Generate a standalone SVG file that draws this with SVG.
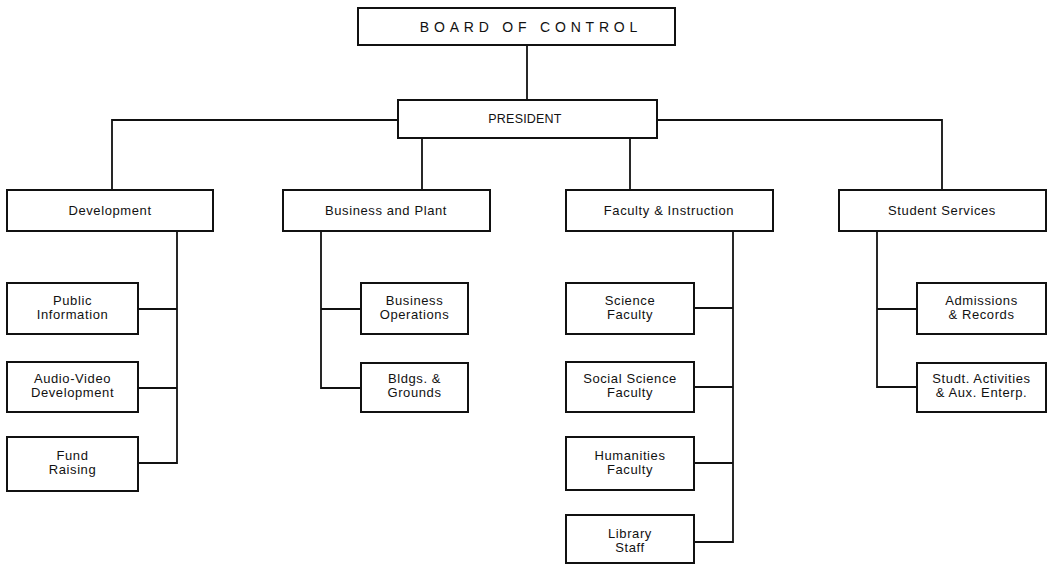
<svg xmlns="http://www.w3.org/2000/svg" width="1048" height="565" viewBox="0 0 1048 565">
  <style>
    .box { fill: #fff; stroke: #111; stroke-width: 2; }
    .link { fill: none; stroke: #111; stroke-width: 1.8; }
    text { font-family: "Liberation Sans", Arial, sans-serif; font-size: 13px; fill: #111; text-anchor: middle; letter-spacing: 0.6px; }
    .caps { font-size: 14px; letter-spacing: 4.8px; }
    .pres { font-size: 12.5px; letter-spacing: 0.2px; }
  </style>
  <rect width="1048" height="565" fill="#fff"/>

  <!-- connectors -->
  <g id="connectors" class="link">
    <path d="M527 45 V100"/>
    <path d="M398 120 H112 V190"/>
    <path d="M657 120 H942 V190"/>
    <path d="M422 138 V190"/>
    <path d="M630 138 V190"/>
    <!-- Development -->
    <path d="M177 231 V463 H138"/>
    <path d="M138 309 H177"/>
    <path d="M138 388 H177"/>
    <!-- Business and Plant -->
    <path d="M321 231 V388 H361"/>
    <path d="M321 309 H361"/>
    <!-- Faculty & Instruction -->
    <path d="M733 231 V542 H694"/>
    <path d="M694 308 H733"/>
    <path d="M694 387 H733"/>
    <path d="M694 463 H733"/>
    <!-- Student Services -->
    <path d="M877 231 V387 H917"/>
    <path d="M877 309 H917"/>
  </g>

  <g id="board">
    <rect class="box" x="358" y="8" width="317" height="37"/>
    <text class="caps" x="531" y="32">BOARD OF CONTROL</text>
  </g>
  <g id="president">
    <rect class="box" x="398" y="100" width="259" height="38"/>
    <text class="pres" x="525" y="123">PRESIDENT</text>
  </g>

  <g id="development">
    <rect class="box" x="7" y="190" width="206" height="41"/>
    <text x="110" y="215">Development</text>
  </g>
  <g id="business-plant">
    <rect class="box" x="283" y="190" width="207" height="41"/>
    <text x="386" y="215">Business and Plant</text>
  </g>
  <g id="faculty-instruction">
    <rect class="box" x="566" y="190" width="207" height="41"/>
    <text x="669" y="215">Faculty &amp; Instruction</text>
  </g>
  <g id="student-services">
    <rect class="box" x="839" y="190" width="207" height="41"/>
    <text x="942" y="215">Student Services</text>
  </g>

  <g id="public-information">
    <rect class="box" x="7" y="283" width="131" height="51"/>
    <text x="72.5" y="305">Public</text>
    <text x="72.5" y="319">Information</text>
  </g>
  <g id="audio-video">
    <rect class="box" x="7" y="362" width="131" height="50"/>
    <text x="72.5" y="383">Audio-Video</text>
    <text x="72.5" y="397">Development</text>
  </g>
  <g id="fund-raising">
    <rect class="box" x="7" y="437" width="131" height="54"/>
    <text x="72.5" y="460">Fund</text>
    <text x="72.5" y="474">Raising</text>
  </g>

  <g id="business-operations">
    <rect class="box" x="361" y="283" width="107" height="51"/>
    <text x="414.5" y="305">Business</text>
    <text x="414.5" y="319">Operations</text>
  </g>
  <g id="bldgs-grounds">
    <rect class="box" x="361" y="363" width="107" height="49"/>
    <text x="414.5" y="383">Bldgs. &amp;</text>
    <text x="414.5" y="397">Grounds</text>
  </g>

  <g id="science-faculty">
    <rect class="box" x="566" y="283" width="128" height="51"/>
    <text x="630" y="305">Science</text>
    <text x="630" y="319">Faculty</text>
  </g>
  <g id="social-science-faculty">
    <rect class="box" x="566" y="362" width="128" height="50"/>
    <text x="630" y="383">Social Science</text>
    <text x="630" y="397">Faculty</text>
  </g>
  <g id="humanities-faculty">
    <rect class="box" x="566" y="437" width="128" height="53"/>
    <text x="630" y="460">Humanities</text>
    <text x="630" y="474">Faculty</text>
  </g>
  <g id="library-staff">
    <rect class="box" x="566" y="515" width="128" height="48"/>
    <text x="630" y="538">Library</text>
    <text x="630" y="552">Staff</text>
  </g>

  <g id="admissions-records">
    <rect class="box" x="917" y="283" width="129" height="51"/>
    <text x="981.5" y="305">Admissions</text>
    <text x="981.5" y="319">&amp; Records</text>
  </g>
  <g id="student-activities">
    <rect class="box" x="917" y="363" width="129" height="49"/>
    <text x="981.5" y="383">Studt. Activities</text>
    <text x="981.5" y="397">&amp; Aux. Enterp.</text>
  </g>
</svg>
